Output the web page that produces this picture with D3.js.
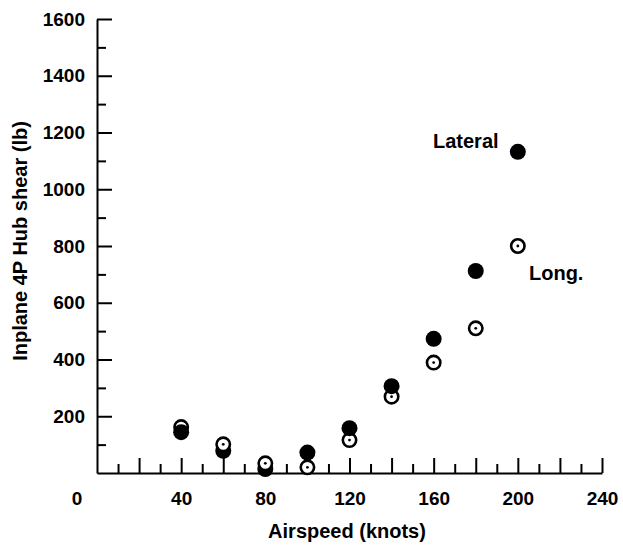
<!DOCTYPE html>
<html lang="en">
<head>
<meta charset="UTF-8">
<title>Inplane 4P Hub shear</title>
<script src="https://cdn.jsdelivr.net/npm/d3@7"></script>
<style>
	body { margin: 0; background: #fff; }
	text { font-family: "Liberation Sans", Arial, Helvetica, sans-serif; font-weight: bold; fill: #000; }
	.axis path, .axis line { stroke: #000; stroke-width: 2; }
	.axis text { font-size: 19px; }
</style>
</head>
<body>
<svg width="623" height="546"></svg>
<script>
	// airspeed (knots) and 4P hub shear (lb)
	const speeds = [40, 60, 80, 100, 120, 140, 160, 180, 200];
	const lateral = [144, 78, 14, 72, 158, 306, 473, 712, 1132];
	const longit = [162, 101, 34, 20, 116, 269, 389, 510, 800];
	// speeds where the open symbol sits over the filled one
	const openOnTop = [60, 80, 100];

	const xTicks = [40, 80, 120, 160, 200, 240];
	const yTicks = [200, 400, 600, 800, 1000, 1200, 1400, 1600];

	var svg = d3.select("svg");

	var x = d3.scaleLinear().domain([0, 240]).range([97, 602]);
	var y = d3.scaleLinear().domain([0, 1600]).range([473, 19]);

	// x axis: major every 20, minor every 10, ticks point up
	svg.append("g").attr("class", "axis")
		.attr("transform", "translate(0," + y(0) + ")")
		.call(d3.axisBottom(x).tickValues(d3.range(20, 241, 20)).tickSize(-15).tickSizeOuter(0).tickFormat(""));
	svg.append("g").attr("class", "axis")
		.attr("transform", "translate(0," + y(0) + ")")
		.call(d3.axisBottom(x).tickValues(d3.range(10, 240, 20)).tickSize(-9).tickSizeOuter(0).tickFormat(""))
		.select(".domain").remove();
	var xl = svg.append("g").attr("class", "axis")
		.attr("transform", "translate(0," + y(0) + ")")
		.call(d3.axisBottom(x).tickValues(xTicks).tickSize(0).tickPadding(19).tickFormat(d3.format("d")));
	xl.select(".domain").remove();
	svg.append("text")
		.attr("x", x(0) - 20).attr("y", y(0) + 32)
		.attr("text-anchor", "middle").style("font-size", "19px")
		.text("0");

	// y axis: major every 200, minor every 100, ticks point right
	svg.append("g").attr("class", "axis")
		.attr("transform", "translate(" + x(0) + ",0)")
		.call(d3.axisLeft(y).tickValues(d3.range(200, 1601, 200)).tickSize(-15).tickSizeOuter(0).tickFormat(""));
	svg.append("g").attr("class", "axis")
		.attr("transform", "translate(" + x(0) + ",0)")
		.call(d3.axisLeft(y).tickValues(d3.range(100, 1600, 200)).tickSize(-9).tickSizeOuter(0).tickFormat(""))
		.select(".domain").remove();
	var yl = svg.append("g").attr("class", "axis")
		.attr("transform", "translate(" + x(0) + ",0)")
		.call(d3.axisLeft(y).tickValues(yTicks).tickSize(0).tickPadding(12).tickFormat(d3.format("d")));
	yl.select(".domain").remove();

	// titles
	svg.append("text")
		.attr("x", 347).attr("y", 538)
		.attr("text-anchor", "middle").style("font-size", "20px")
		.text("Airspeed (knots)");
	svg.append("text")
		.attr("transform", "translate(27,241) rotate(-90)")
		.attr("text-anchor", "middle").style("font-size", "20px")
		.text("Inplane 4P Hub shear (lb)");

	// points
	function drawFilled(i) {
		svg.append("circle")
			.attr("cx", x(speeds[i])).attr("cy", y(lateral[i]))
			.attr("r", 8).attr("fill", "#000");
	}
	function drawOpen(i) {
		svg.append("circle")
			.attr("cx", x(speeds[i])).attr("cy", y(longit[i]))
			.attr("r", 6.7).attr("fill", "#fff")
			.attr("stroke", "#000").attr("stroke-width", 2.6);
		svg.append("circle")
			.attr("cx", x(speeds[i])).attr("cy", y(longit[i]))
			.attr("r", 1.4).attr("fill", "#000");
	}
	speeds.forEach((s, i) => {
		if (openOnTop.includes(s)) { drawFilled(i); drawOpen(i); }
		else { drawOpen(i); drawFilled(i); }
	});

	// series labels
	svg.append("text").attr("x", 433).attr("y", 148).style("font-size", "20px").text("Lateral");
	svg.append("text").attr("x", 529).attr("y", 280).style("font-size", "20px").text("Long.");
</script>
</body>
</html>
